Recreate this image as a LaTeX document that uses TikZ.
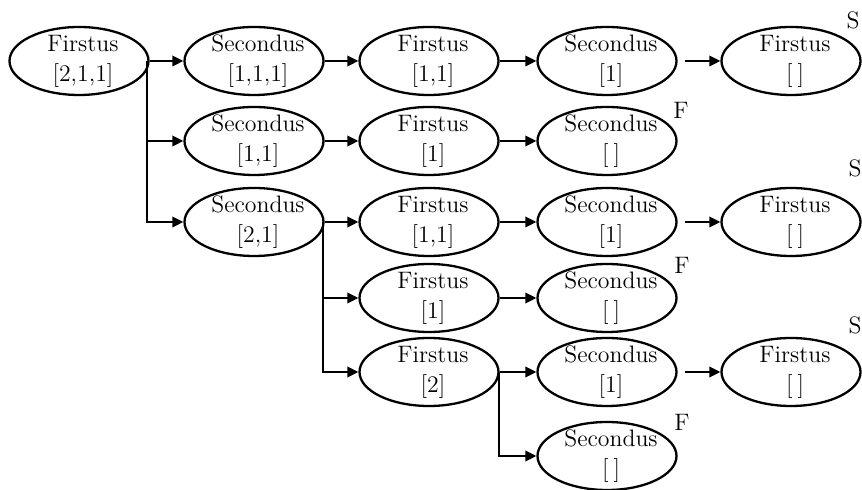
\documentclass[tikz,border=0pt]{standalone}
\usetikzlibrary{shapes.geometric,arrows.meta,calc}
\tikzset{
  oval/.style={ellipse, draw, line width=1.15pt, inner sep=0pt,
    minimum width=69.5pt, minimum height=34pt,
    font=\fontsize{11.9}{15}\selectfont},
  arr/.style={line width=1.05pt, -{Triangle[length=5.5pt,width=5.2pt]}},
  tag/.style={inner sep=0pt, font=\fontsize{11.9}{15}\selectfont}
}
% two centred lines inside an oval, kept out of the shape's size
\newcommand\twolines[2]{\raisebox{4.5pt}[0pt][0pt]{\makebox[0pt]{\hspace{4pt}\begin{tabular}[t]{@{}c@{}}#1\\\relax #2\end{tabular}}}}
\newcommand\emptylist{[\hspace{2.5pt}]}
\begin{document}
\begin{tikzpicture}[x=0.5pt,y=-0.5pt]
\useasboundingbox (0,0) rectangle (862,490);

% root
\node[oval] (r)  at (79,61)   {\twolines{Firstus}{[2,1,1]}};
% second column
\node[oval] (a1) at (254,61)  {\twolines{Secondus}{[1,1,1]}};
\node[oval] (b1) at (254,141) {\twolines{Secondus}{[1,1]}};
\node[oval] (c1) at (254,222) {\twolines{Secondus}{[2,1]}};
% third column
\node[oval] (a2) at (429,61)  {\twolines{Firstus}{[1,1]}};
\node[oval] (b2) at (429,141) {\twolines{Firstus}{[1]}};
\node[oval] (c2) at (429,222) {\twolines{Firstus}{[1,1]}};
\node[oval] (d2) at (429,298) {\twolines{Firstus}{[1]}};
\node[oval] (e2) at (429,372) {\twolines{Firstus}{[2]}};
% fourth column
\node[oval] (a3) at (607,61)  {\twolines{Secondus}{[1]}};
\node[oval] (b3) at (607,141) {\twolines{Secondus}{\emptylist}};
\node[oval] (c3) at (607,222) {\twolines{Secondus}{[1]}};
\node[oval] (d3) at (607,298) {\twolines{Secondus}{\emptylist}};
\node[oval] (e3) at (607,372) {\twolines{Secondus}{[1]}};
\node[oval] (f3) at (607,456) {\twolines{Secondus}{\emptylist}};
% fifth column
\node[oval] (a4) at (791,61)  {\twolines{Firstus}{\emptylist}};
\node[oval] (c4) at (791,222) {\twolines{Firstus}{\emptylist}};
\node[oval] (e4) at (791,372) {\twolines{Firstus}{\emptylist}};

% outcome marks
\node[tag] (s1) at (853,20)  {S};
\node[tag] (f1) at (681,110) {F};
\node[tag] (s2) at (855,168) {S};
\node[tag] (f2) at (682,265) {F};
\node[tag] (s3) at (855,325) {S};
\node[tag] (f3m) at (682,422) {F};

% branching from the root
\coordinate (j0) at ($(r.east)+(-3,0)$);
\draw[arr] (r.east) -- (a1.west);
\draw[arr] (j0) |- (b1.west);
\draw[arr] (j0) |- (c1.west);

% branching from Secondus [2,1]
\coordinate (j1) at ($(c1.east)+(-1.5,0)$);
\draw[arr] (c1.east) -- (c2.west);
\draw[arr] (j1) |- (d2.west);
\draw[arr] (j1) |- (e2.west);

% branching from Firstus [2]
\coordinate (j2) at ($(e2.east)+(-0.5,0)$);
\draw[arr] (e2.east) -- (e3.west);
\draw[arr] (j2) |- (f3.west);

% straight chains
\draw[arr] (a1.east) -- (a2.west);
\draw[arr] (a2.east) -- (a3.west);
\draw[arr, shorten <=3.5pt] (a3.east) -- (a4.west);
\draw[arr] (b1.east) -- (b2.west);
\draw[arr] (b2.east) -- (b3.west);
\draw[arr] (c2.east) -- (c3.west);
\draw[arr, shorten <=3.5pt] (c3.east) -- (c4.west);
\draw[arr] (d2.east) -- (d3.west);
\draw[arr, shorten <=3.5pt] (e3.east) -- (e4.west);
\end{tikzpicture}
\end{document}
